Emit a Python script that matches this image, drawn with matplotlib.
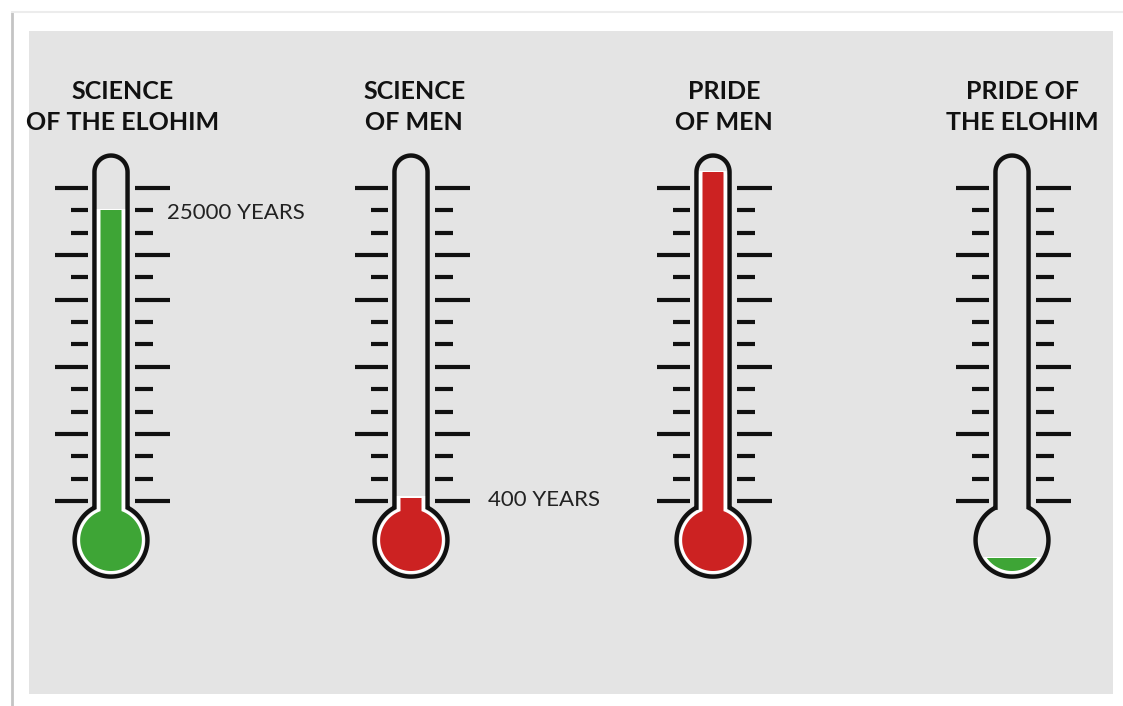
import numpy as np
import matplotlib
matplotlib.use("Agg")
import matplotlib.pyplot as plt
from matplotlib.path import Path
from matplotlib.patches import PathPatch, Rectangle

plt.rcParams['font.family'] = ['Lato', 'DejaVu Sans']

# data: fill level of each thermometer, in scale ticks (0 = lowest tick, 14 = top tick)
titles = ["SCIENCE\nOF THE ELOHIM", "SCIENCE\nOF MEN", "PRIDE\nOF MEN", "PRIDE OF\nTHE ELOHIM"]
levels = [13.0, 0.15, 14.7, -2.55]
fill_colors = ["#3ea536", "#cc2222", "#cc2222", "#3ea536"]
notes = ["25000 YEARS", "400 YEARS", "", ""]
n_ticks = 15
long_ticks = [0, 3, 6, 9, 11, 14]

# layout (pixels)
W, H = 1123, 706
unit = 22.36          # pixels per scale tick
zero_px = 501         # pixel row of the lowest tick
centers_px = [111, 411, 713, 1012]
title_dx = [0.5, 0.15, 0.5, 0.45]
note_dx = [2.5, 3.44, 0, 0]
panel = "#e4e4e4"
ink = "#111111"


def thermo_path(w, r, top, cy=-1.75):
    ny = cy + np.sqrt(r * r - w * w)
    tc = top - w
    t = np.linspace(np.pi, 0, 40)
    pts = [(-w, ny), (-w, tc)]
    pts += list(zip(w * np.cos(t), tc + w * np.sin(t)))
    pts += [(w, ny)]
    a0 = np.arctan2(ny - cy, w)
    a = np.linspace(a0, -np.pi - a0, 160)
    pts += list(zip(r * np.cos(a), cy + r * np.sin(a)))
    pts.append(pts[0])
    return Path(pts, closed=True)


fig = plt.figure(figsize=(W / 100, H / 100), dpi=100)
fig.patch.set_facecolor("white")

bg = fig.add_axes([0, 0, 1, 1])
bg.set_xlim(0, W)
bg.set_ylim(H, 0)
bg.axis("off")
bg.add_patch(Rectangle((29, 31), 1084, 663, facecolor=panel, edgecolor="none"))
bg.plot([12, 12], [12, H], color="#c4c4c4", lw=2)
bg.plot([12, W], [12, 12], color="#ececec", lw=1.5)

y0, y1, x0, x1 = -4.2, 16.2, -6, 6
for i, c in enumerate(centers_px):
    ax = fig.add_axes([(c + x0 * unit) / W, (H - (zero_px - y0 * unit)) / H,
                       (x1 - x0) * unit / W, (y1 - y0) * unit / H])
    ax.set_xlim(x0, x1)
    ax.set_ylim(y0, y1)
    ax.axis("off")
    ax.patch.set_alpha(0)

    # scale ticks
    ys = np.arange(n_ticks)
    is_long = np.isin(ys, long_ticks)
    ax.hlines(ys, np.where(is_long, -2.5, -1.79), -1.03, color=ink, lw=3, capstyle="butt")
    ax.hlines(ys, 1.07, np.where(is_long, 2.64, 1.88), color=ink, lw=3, capstyle="butt")

    # glass
    ax.add_patch(PathPatch(thermo_path(0.74, 1.63, 15.45), facecolor=panel,
                           edgecolor=ink, lw=3.2, zorder=2))

    # liquid with white rim, cut at the level
    rim = ax.add_patch(PathPatch(thermo_path(0.63, 1.5, 15.2), facecolor="white",
                                 edgecolor="none", zorder=3))
    rim.set_clip_path(Rectangle((-3, -6), 6, levels[i] + 6 + 0.06, transform=ax.transData))
    liquid = ax.add_patch(PathPatch(thermo_path(0.47, 1.38, 15.1), facecolor=fill_colors[i],
                                    edgecolor="none", zorder=4))
    liquid.set_clip_path(Rectangle((-3, -6), 6, levels[i] + 6, transform=ax.transData))

    ax.text(title_dx[i], 17.6, titles[i], ha="center", va="center", fontsize=18,
            fontweight="bold", color=ink, linespacing=1.42, clip_on=False)
    if notes[i]:
        ax.text(note_dx[i], levels[i] - 0.1, notes[i], ha="left", va="center", fontsize=16,
                color="#222222", clip_on=False)

fig.savefig("out.png", dpi=100, facecolor="white")
